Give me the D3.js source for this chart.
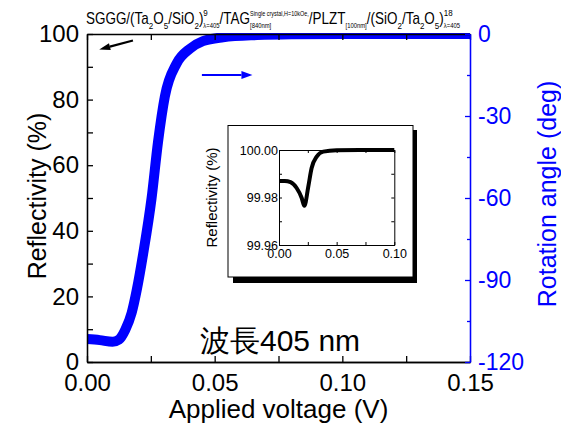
<!DOCTYPE html>
<html>
<head>
<meta charset="utf-8">
<script src="https://cdn.jsdelivr.net/npm/d3@7"></script>
<style>
body { margin: 0; background: #fff; }
text { font-family: "Liberation Sans", Arial, sans-serif; }
</style>
</head>
<body>
<div id="chart-area"></div>
<script>
// main curve: rotation angle (deg) vs applied voltage (V)
var voltage  = [0, 0.005, 0.01, 0.0125, 0.015, 0.0175, 0.0195, 0.022, 0.0253, 0.0278, 0.0305, 0.0351, 0.0403, 0.0454, 0.0533, 0.0666, 0.08, 0.1, 0.15];
var rotation = [-111.6, -112.0, -112.6, -111.8, -108.2, -102.0, -93.6, -80.4, -60.0, -39.6, -22.8, -10.8, -5.4, -2.6, -1.2, -0.4, -0.1, 0, 0];

// inset curve: reflectivity (%) vs applied voltage (V)
var insetVoltage = [0, 0.005, 0.01, 0.0153, 0.0197, 0.022, 0.0254, 0.0283, 0.0327, 0.0384, 0.05, 0.07, 0.1];
var insetReflect = [99.987, 99.987, 99.9865, 99.984, 99.9798, 99.9765, 99.9846, 99.9924, 99.9972, 99.9993, 99.9999, 100, 100];

// ticks
var xTicks = [0, 0.05, 0.10, 0.15];
var xMinor = [0.025, 0.075, 0.125];
var yTicks = [0, 20, 40, 60, 80, 100];
var yMinor = [10, 30, 50, 70, 90];
var rTicks = [0, -30, -60, -90, -120];
var rMinor = [-15, -45, -75, -105];
var insetXTicks = [0, 0.05, 0.10];
var insetXMinor = [0.025, 0.075];
var insetYTicks = [99.96, 99.98, 100];
var insetYMinor = [99.97, 99.99];

var BLUE = "#0000ff";

var margin = { left: 87, right: 91, top: 34, bottom: 61 };
var width = 561 - margin.left - margin.right;
var height = 423 - margin.top - margin.bottom;

var svg = d3.select("#chart-area").append("svg")
  .attr("width", 561)
  .attr("height", 423);

var g = svg.append("g")
  .attr("transform", "translate(" + margin.left + "," + margin.top + ")");

// scales
var x = d3.scaleLinear().domain([0, 0.15]).range([0, width]);
var y = d3.scaleLinear().domain([0, 100]).range([height, 0]);
var yR = d3.scaleLinear().domain([-120, 0]).range([height, 0]);

svg.append("defs").append("clipPath").attr("id", "clip")
  .append("rect").attr("x", 0).attr("y", -1).attr("width", width).attr("height", height + 2);

// blue curve
var curve = voltage.map(function(v, i) { return [v, rotation[i]]; });
g.append("path")
  .datum(curve)
  .attr("clip-path", "url(#clip)")
  .attr("fill", "none")
  .attr("stroke", BLUE)
  .attr("stroke-width", 10)
  .attr("d", d3.line()
    .x(function(d) { return x(d[0]); })
    .y(function(d) { return yR(d[1]); })
    .curve(d3.curveMonotoneX));

// axes
function styleAxis(sel, color, size) {
  sel.selectAll("path").attr("stroke", color).attr("stroke-width", 1.3);
  sel.selectAll("line").attr("stroke", color).attr("stroke-width", 1.3);
  sel.selectAll("text").attr("fill", color).attr("font-size", size)
    .attr("font-family", "'Liberation Sans', Arial, sans-serif");
}

var xAxis = g.append("g").attr("transform", "translate(0," + height + ")")
  .call(d3.axisBottom(x).tickValues(xTicks).tickSize(-6).tickSizeOuter(0).tickPadding(12)
    .tickFormat(d3.format(".2f")));
styleAxis(xAxis, "#000", "24px");
var xAxisMinor = g.append("g").attr("transform", "translate(0," + height + ")")
  .call(d3.axisBottom(x).tickValues(xMinor).tickSize(-6).tickSizeOuter(0).tickFormat(""));
styleAxis(xAxisMinor, "#000", "24px");

var topAxis = g.append("g")
  .call(d3.axisTop(x).tickValues(xTicks.concat(xMinor)).tickSize(-6).tickSizeOuter(0).tickFormat(""));
styleAxis(topAxis, "#000", "24px");

var yAxis = g.append("g")
  .call(d3.axisLeft(y).tickValues(yTicks).tickSize(-6).tickSizeOuter(0).tickPadding(8));
styleAxis(yAxis, "#000", "24px");
var yAxisMinor = g.append("g")
  .call(d3.axisLeft(y).tickValues(yMinor).tickSize(-6).tickSizeOuter(0).tickFormat(""));
styleAxis(yAxisMinor, "#000", "24px");

var rAxis = g.append("g").attr("transform", "translate(" + width + ",0)")
  .call(d3.axisRight(yR).tickValues(rTicks).tickSize(-5).tickSizeOuter(0).tickPadding(8)
    .tickFormat(function(d) { return String(d); }));
styleAxis(rAxis, BLUE, "23px");
var rAxisMinor = g.append("g").attr("transform", "translate(" + width + ",0)")
  .call(d3.axisRight(yR).tickValues(rMinor).tickSize(-3).tickSizeOuter(0).tickFormat(""));
styleAxis(rAxisMinor, BLUE, "23px");

// axis labels
g.append("text")
  .attr("x", width / 2)
  .attr("y", height + 56)
  .attr("font-size", "26px")
  .attr("text-anchor", "middle")
  .text("Applied voltage (V)");

g.append("text")
  .attr("transform", "translate(" + (-41) + "," + (height / 2 - 2) + ") rotate(-90)")
  .attr("font-size", "25px")
  .attr("text-anchor", "middle")
  .text("Reflectivity (%)");

g.append("text")
  .attr("transform", "translate(" + (width + 86) + "," + (height / 2 - 4) + ") rotate(-90)")
  .attr("font-size", "25px")
  .attr("fill", BLUE)
  .attr("text-anchor", "middle")
  .text("Rotation angle (deg)");

// arrows
function arrow(x1, y1, x2, y2, color, headLen, headW) {
  var dx = x2 - x1, dy = y2 - y1, len = Math.sqrt(dx * dx + dy * dy);
  var ux = dx / len, uy = dy / len;
  var bx = x2 - ux * headLen, by = y2 - uy * headLen;
  g.append("line")
    .attr("x1", x1).attr("y1", y1).attr("x2", bx).attr("y2", by)
    .attr("stroke", color).attr("stroke-width", 2.2);
  g.append("path")
    .attr("d", "M" + x2 + "," + y2 +
      "L" + (bx - uy * headW / 2) + "," + (by + ux * headW / 2) +
      "L" + (bx + uy * headW / 2) + "," + (by - ux * headW / 2) + "Z")
    .attr("fill", color);
}
arrow(x(0.018), y(98), x(0.0048), y(95.3), "#000", 11, 7);
arrow(x(0.045), yR(-15), x(0.0648), yR(-15), BLUE, 11, 8);

// wavelength note
g.append("text")
  .attr("x", 113)
  .attr("y", 317)
  .attr("font-size", "30px")
  .attr("font-family", "'Liberation Sans', 'Noto Sans CJK JP', sans-serif")
  .text("波長405 nm");

// title with sub/superscripts
var title = svg.append("g");
var tx = 0;
var MAIN = 16, SUBN = 9.5, TINY = 7;
function piece(str, size, dy) {
  var t = title.append("text").attr("x", tx).attr("y", 24 + dy)
    .attr("font-size", size + "px").text(str);
  return t.node().getComputedTextLength();
}
function run(str, size, dy) { tx += piece(str, size, dy); }
function stack(sup, sub, supSize, subSize, supDy, subDy) {
  var w1 = piece(sup, supSize, supDy);
  var w2 = piece(sub, subSize, subDy);
  tx += Math.max(w1, w2);
}
run("SGGG/(Ta", MAIN, 0); run("2", SUBN, 5); run("O", MAIN, 0); run("5", SUBN, 5);
run("/SiO", MAIN, 0); run("2", SUBN, 5); run(")", MAIN, 0);
stack("9", "\u03bb=405", SUBN, TINY, -7.5, 4);
run("/TAG", MAIN, 0);
stack("Single crystal,H=10kOe,", "[840nm]", 6.5, TINY, -8, 4);
run("/PLZT", MAIN, 0); run("[100nm]", TINY, 4);
run("/(SiO", MAIN, 0); run("2", SUBN, 5); run("/Ta", MAIN, 0); run("2", SUBN, 5);
run("O", MAIN, 0); run("5", SUBN, 5); run(")", MAIN, 0);
stack("18", "\u03bb=405", SUBN, TINY, -7.5, 4);
// stretch the title to its span in the figure
title.attr("transform", "translate(86,0) scale(" + (374 / tx) + ",1)");

// inset
var inset = svg.append("g");
inset.append("rect").attr("x", 233).attr("y", 130).attr("width", 184).attr("height", 153).attr("fill", "#000");
inset.append("rect").attr("x", 228).attr("y", 125.5).attr("width", 185).attr("height", 151.5)
  .attr("fill", "#fff").attr("stroke", "#000").attr("stroke-width", 1);

var ig = inset.append("g").attr("transform", "translate(279,150)");
var iw = 115.3, ih = 95;
var ix = d3.scaleLinear().domain([0, 0.1]).range([0, iw]);
var iy = d3.scaleLinear().domain([99.96, 100]).range([ih, 0]);

function styleInset(sel) {
  sel.selectAll("path").attr("stroke", "#000").attr("stroke-width", 1);
  sel.selectAll("line").attr("stroke", "#000").attr("stroke-width", 1);
  sel.selectAll("text").attr("font-size", "12.5px").attr("fill", "#000")
    .attr("font-family", "'Liberation Sans', Arial, sans-serif");
}
styleInset(ig.append("g").attr("transform", "translate(0," + ih + ")")
  .call(d3.axisBottom(ix).tickValues(insetXTicks).tickSize(-3).tickSizeOuter(0).tickPadding(4)
    .tickFormat(d3.format(".2f"))));
styleInset(ig.append("g").attr("transform", "translate(0," + ih + ")")
  .call(d3.axisBottom(ix).tickValues(insetXMinor).tickSize(-3).tickSizeOuter(0).tickFormat("")));
styleInset(ig.append("g")
  .call(d3.axisTop(ix).tickValues(insetXTicks.concat(insetXMinor)).tickSize(-3).tickSizeOuter(0).tickFormat("")));
styleInset(ig.append("g")
  .call(d3.axisLeft(iy).tickValues(insetYTicks).tickSize(-3).tickSizeOuter(0).tickPadding(1)
    .tickFormat(d3.format(".2f"))));
styleInset(ig.append("g")
  .call(d3.axisLeft(iy).tickValues(insetYMinor).tickSize(-3).tickSizeOuter(0).tickFormat("")));
styleInset(ig.append("g").attr("transform", "translate(" + iw + ",0)")
  .call(d3.axisRight(iy).tickValues(insetYTicks.concat(insetYMinor)).tickSize(-3).tickSizeOuter(0).tickFormat("")));

var insetCurve = insetVoltage.map(function(v, i) { return [v, insetReflect[i]]; });
ig.append("path")
  .datum(insetCurve)
  .attr("fill", "none")
  .attr("stroke", "#000")
  .attr("stroke-width", 4)
  .attr("d", d3.line()
    .x(function(d) { return ix(d[0]); })
    .y(function(d) { return iy(d[1]); })
    .curve(d3.curveMonotoneX));

ig.append("text")
  .attr("transform", "translate(-62," + (ih / 2) + ") rotate(-90)")
  .attr("font-size", "15px")
  .attr("text-anchor", "middle")
  .text("Reflectivity (%)");
</script>
</body>
</html>
